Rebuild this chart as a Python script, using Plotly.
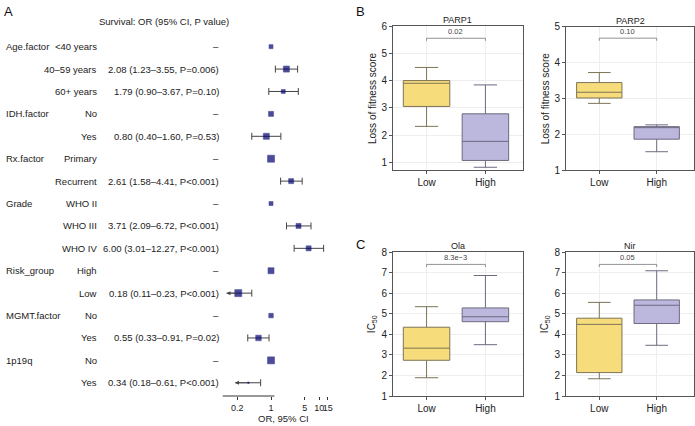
import numpy as np
import plotly.graph_objects as go

W, H = 695, 426

# ---- panel A: forest plot data
group_names = ["Age.factor", "IDH.factor", "Rx.factor", "Grade", "Risk_group", "MGMT.factor", "1p19q"]
group_rows = [0, 3, 5, 7, 10, 12, 14]
levels = ["<40 years", "40–59 years", "60+ years", "No", "Yes", "Primary", "Recurrent",
          "WHO II", "WHO III", "WHO IV", "High", "Low", "No", "Yes", "No", "Yes"]
or_text = ["–", "2.08 (1.23–3.55, P=0.006)", "1.79 (0.90–3.67, P=0.10)", "–",
           "0.80 (0.40–1.60, P=0.53)", "–", "2.61 (1.58–4.41, P<0.001)", "–",
           "3.71 (2.09–6.72, P<0.001)", "6.00 (3.01–12.27, P<0.001)", "–",
           "0.18 (0.11–0.23, P<0.001)", "–", "0.55 (0.33–0.91, P=0.02)", "–",
           "0.34 (0.18–0.61, P<0.001)"]
or_vals = [1, 2.08, 1.79, 1, 0.80, 1, 2.61, 1, 3.71, 6.00, 1, 0.21, 1, 0.55, 1, 0.34]
ci_lo = [None, 1.23, 0.90, None, 0.40, None, 1.58, None, 2.09, 3.01, None, 0.12, None, 0.33, None, 0.18]
ci_hi = [None, 3.55, 3.67, None, 1.60, None, 4.41, None, 6.72, 12.27, None, 0.40, None, 0.91, None, 0.61]
marker_px = [4, 6, 4, 5, 6, 7, 5, 4, 5, 5, 6, 7, 4.5, 5.5, 7, 1.5]
arrow_lo = [False] * 11 + [True] + [False] * 3 + [True]
or_ticks = [0.2, 1, 5, 10, 15]

# ---- panels B/C: box stats [lower, q1, median, q3, upper] for Low / High
box_titles = ["PARP1", "PARP2", "Ola", "Nir"]
parp1_low = [2.32, 3.05, 3.90, 4.00, 4.48]
parp1_high = [0.82, 1.07, 1.77, 2.78, 3.84]
parp2_low = [2.86, 3.01, 3.17, 3.44, 3.72]
parp2_high = [1.51, 1.86, 2.19, 2.21, 2.26]
ola_low = [1.89, 2.74, 3.33, 4.35, 5.35]
ola_high = [3.50, 4.62, 4.86, 5.29, 6.87]
nir_low = [1.84, 2.14, 4.49, 4.79, 5.56]
nir_high = [3.47, 4.53, 5.42, 5.68, 7.10]
p_labels = ["0.02", "0.10", "8.3e−3", "0.05"]
bracket_y = [5.55, 4.68, 7.41, 7.41]
y_ranges = [[0.72, 6], [1, 5], [1, 8], [1, 8]]
y_ticks = [[1, 2, 3, 4, 5, 6], [1, 2, 3, 4, 5], [1, 2, 3, 4, 5, 6, 7, 8], [1, 2, 3, 4, 5, 6, 7, 8]]
y_titles = ["Loss of fitness score", "Loss of fitness score", "IC<sub>50</sub>", "IC<sub>50</sub>"]

FONT = "Liberation Sans, Arial, sans-serif"
TXT = "#222222"
NAVY = "#000070"
LOW_FILL, LOW_LINE = "#f7dc7c", "#7d7456"
HIGH_FILL, HIGH_LINE = "#bcb7dc", "#6d6a80"


def px(x):
    return x / W


def py(y):
    return 1 - y / H


def label(x, y, text, size=9.5, xanchor="center", color=TXT, **kw):
    # paper-positioned text, given in pixels from the top-left
    return dict(x=px(x), y=py(y), xref="paper", yref="paper", text=text, showarrow=False,
                xanchor=xanchor, yanchor="middle", font=dict(size=size, color=color), **kw)


fig = go.Figure()
ann = []
shapes = []

# ---------------- panel A
rows = list(range(len(levels)))

lx, ly, capx, capy = [], [], [], []
for i in rows:
    if ci_lo[i] is None:
        continue
    lx += [ci_lo[i], ci_hi[i], None]
    ly += [i, i, None]
    capx.append(ci_hi[i]); capy.append(i)
    if not arrow_lo[i]:
        capx.append(ci_lo[i]); capy.append(i)
    else:
        ann.append(dict(x=np.log10(ci_lo[i]), y=i, ax=np.log10(or_vals[i]), ay=i,
                        xref="x", yref="y", axref="x", ayref="y", text="",
                        showarrow=True, arrowhead=2, arrowsize=1, arrowwidth=0.8,
                        arrowcolor="#444"))
fig.add_trace(go.Scatter(x=lx, y=ly, mode="lines", line=dict(color="#444", width=1),
                         showlegend=False, hoverinfo="skip", xaxis="x", yaxis="y"))
fig.add_trace(go.Scatter(x=capx, y=capy, mode="markers",
                         marker=dict(symbol="line-ns-open", size=5, color="#444",
                                     line=dict(color="#444", width=1)),
                         showlegend=False, hoverinfo="skip", xaxis="x", yaxis="y"))
fig.add_trace(go.Scatter(x=or_vals, y=rows, mode="markers",
                         marker=dict(symbol="square", size=marker_px, color=NAVY,
                                     line=dict(width=0.6, color=NAVY)),
                         showlegend=False, hoverinfo="skip", xaxis="x", yaxis="y"))

for name, r in zip(group_names, group_rows):
    ann.append(dict(x=px(4), y=r, xref="paper", yref="y", text=name, showarrow=False,
                    xanchor="left", yanchor="middle", font=dict(size=9.5, color=TXT)))
for i in rows:
    ann.append(dict(x=px(98.5), y=i, xref="paper", yref="y", text=levels[i], showarrow=False,
                    xanchor="right", yanchor="middle", font=dict(size=9.5, color=TXT)))
    ann.append(dict(x=px(220.5), y=i, xref="paper", yref="y", text=or_text[i], showarrow=False,
                    xanchor="right", yanchor="middle", font=dict(size=9.5, color=TXT)))

ann.append(label(164, 22, "Survival: OR (95% CI, P value)"))
ann.append(label(283, 418, "OR, 95% CI"))
ann.append(label(2, 12, "A", size=13, xanchor="left", color="#111"))

shapes.append(dict(type="line", xref="x", yref="y domain", x0=0, x1=0, y0=0, y1=1,
                   line=dict(color="#333", width=1, dash="4px,3px")))
shapes.append(dict(type="line", xref="x", yref="y domain", x0=np.log10(0.153), x1=np.log10(15),
                   y0=0, y1=0, line=dict(color="#333", width=1)))

layout = dict(
    xaxis=dict(type="log", domain=[px(222.7), px(329)], range=[-1, 1.2], anchor="y",
               showline=False, showgrid=False, zeroline=False, tickvals=or_ticks,
               ticktext=[str(t) for t in or_ticks], ticks="outside", ticklen=3,
               tickangle=0, automargin=False,
               tickcolor="#333", tickfont=dict(size=9, color=TXT)),
    yaxis=dict(domain=[py(396), py(33)], range=[15.59, -0.61], visible=False, anchor="x",
               automargin=False),
)

# ---------------- panels B/C
box_data = [(parp1_low, parp1_high), (parp2_low, parp2_high), (ola_low, ola_high), (nir_low, nir_high)]
x_doms = [(393, 522.5), (566, 694), (393, 522.5), (566, 694)]
x_rngs = [[-0.57, 1.63], [-0.58, 1.65], [-0.57, 1.63], [-0.58, 1.65]]
y_doms = [(26, 170), (26.7, 170), (252.3, 396), (252.3, 396)]

for k in range(4):
    n = k + 2
    xa, ya = "x%d" % n, "y%d" % n
    low, high = box_data[k]
    for grp, st, fill, line in [("Low", low, LOW_FILL, LOW_LINE), ("High", high, HIGH_FILL, HIGH_LINE)]:
        fig.add_trace(go.Box(x=[grp], lowerfence=[st[0]], q1=[st[1]], median=[st[2]],
                             q3=[st[3]], upperfence=[st[4]], width=0.79, whiskerwidth=0.5,
                             fillcolor=fill, line=dict(color=line, width=1), boxpoints=False,
                             showlegend=False, hoverinfo="skip", xaxis=xa, yaxis=ya))
    # significance bracket
    b = bracket_y[k]
    drop = (y_ranges[k][1] - y_ranges[k][0]) * 0.018
    fig.add_trace(go.Scatter(x=["Low", "Low", "High", "High"], y=[b - drop, b, b, b - drop],
                             mode="lines", line=dict(color="#777", width=0.8),
                             showlegend=False, hoverinfo="skip", xaxis=xa, yaxis=ya))
    ann.append(dict(x=0.5, y=b, xref=xa, yref=ya, text=p_labels[k], showarrow=False,
                    xanchor="center", yanchor="bottom", yshift=0,
                    font=dict(size=7.5, color="#444")))

    x0, x1 = x_doms[k]
    y0, y1 = y_doms[k]
    axis_common = dict(showline=True, mirror=True, linecolor="#555", linewidth=1,
                       ticks="outside", ticklen=3, tickcolor="#555", showgrid=True,
                       gridcolor="#eeeeee", gridwidth=1, zeroline=False, automargin=False,
                       tickfont=dict(size=10, color=TXT))
    layout["xaxis%d" % n] = dict(axis_common, domain=[px(x0), px(x1)], anchor=ya,
                                 type="category", categoryorder="array", tickangle=0,
                                 categoryarray=["Low", "High"], range=x_rngs[k])
    layout["yaxis%d" % n] = dict(axis_common, domain=[py(y1), py(y0)], anchor=xa,
                                 range=y_ranges[k], tickvals=y_ticks[k])
    ann.append(label((x0 + x1) / 2, y0 - 6, box_titles[k], size=9))
    ann.append(label(x0 - 21, (y0 + y1) / 2, y_titles[k], size=10, textangle=-90))

ann.append(label(354, 12, "B", size=13, xanchor="left", color="#111"))
ann.append(label(354, 244, "C", size=13, xanchor="left", color="#111"))

fig.update_layout(
    width=W, height=H,
    margin=dict(l=0, r=0, t=0, b=0, autoexpand=False),
    paper_bgcolor="white", plot_bgcolor="white",
    font=dict(family=FONT, color=TXT),
    annotations=ann, shapes=shapes,
    boxmode="overlay",
    **layout
)

# the page body has a default 8px margin; drop it so the figure fills the window
fig.write_html("out.html", config={"displayModeBar": False},
               post_script="document.body.style.margin = '0';")
